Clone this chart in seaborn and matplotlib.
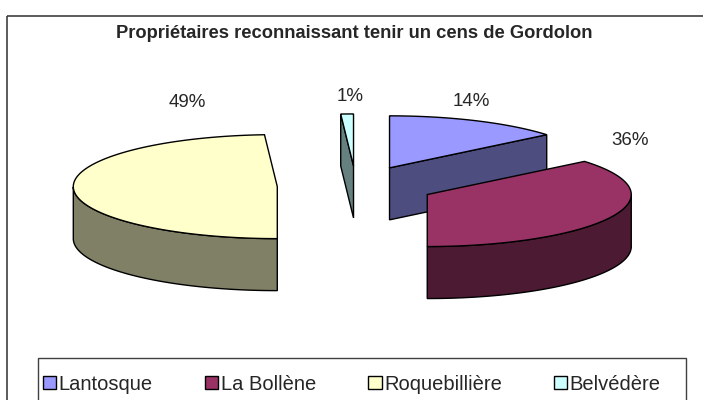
import numpy as np
import matplotlib
matplotlib.use("Agg")
import matplotlib.pyplot as plt
from matplotlib.patches import Polygon, Rectangle, Patch
from matplotlib.colors import to_rgb
import seaborn as sns

# data
communes = ["Lantosque", "La Bollène", "Roquebillière", "Belvédère"]
parts = [14, 36, 49, 1]
pct_labels = ["14%", "36%", "49%", "1%"]
title = "Propriétaires reconnaissant tenir un cens de Gordolon"

sns.set_theme(style="white")
plt.rcParams["font.family"] = ["Liberation Sans", "DejaVu Sans"]

top_colors = ["#9999FF", "#993366", "#FFFFCC", "#CCFFFF"]


def shade(c, f=0.5):
    return tuple(v * f for v in to_rgb(c))


fig = plt.figure(figsize=(7.03, 4.0), dpi=100)
ax = fig.add_axes([0, 0, 1, 1])
ax.set_xlim(0, 703)
ax.set_ylim(400, 0)
ax.axis("off")

# chart area border and title
ax.add_patch(Rectangle((7, 16), 720, 420, fill=False, ec="#404040", lw=1.2))
ax.text(354, 33, title, ha="center", va="center", fontsize=13.2, fontweight="bold")

# 3d pie geometry (pixel space)
cx, cy = 356, 186
a, b, depth = 204, 52, 52
explode = 0.386
label_offsets = [(82, -66), (203, -54), (-90, -84), (-3, -69)]

total = float(sum(parts))
cum = np.concatenate([[0], np.cumsum(parts)]) / total
slices = []
for i, p in enumerate(parts):
    t1 = np.radians(90 - 360 * cum[i])
    t0 = np.radians(90 - 360 * cum[i + 1])
    mid = (t0 + t1) / 2
    ox = cx + explode * a * np.cos(mid)
    oy = cy - explode * b * np.sin(mid)
    slices.append((i, t0, t1, ox, oy))


def pt(ox, oy, t, dz=0.0):
    return ox + a * np.cos(t), oy - b * np.sin(t) + dz


for i, t0, t1, ox, oy in sorted(slices, key=lambda s: s[4]):
    top = top_colors[i]
    side = shade(top)
    kw = dict(ec="black", lw=1.0, joinstyle="miter")
    # radial cut faces
    for t, vis in [(t0, np.cos(t0) > 1e-6), (t1, np.cos(t1) < -1e-6)]:
        if vis:
            x, y = pt(ox, oy, t)
            quad = [(ox, oy), (x, y), (x, y + depth), (ox, oy + depth)]
            ax.add_patch(Polygon(quad, closed=True, fc=side, **kw))
    # outer wall (front half)
    ts = np.linspace(t0, t1, 300)
    front = np.sin(ts) < 0
    runs = []
    cur = []
    for t, f in zip(ts, front):
        if f:
            cur.append(t)
        elif cur:
            runs.append(cur)
            cur = []
    if cur:
        runs.append(cur)
    for run in runs:
        run = np.array(run)
        upper = [pt(ox, oy, t) for t in run]
        lower = [pt(ox, oy, t, depth) for t in run[::-1]]
        ax.add_patch(Polygon(upper + lower, closed=True, fc=side, **kw))
    # top face
    arc = [pt(ox, oy, t) for t in np.linspace(t0, t1, 300)]
    ax.add_patch(Polygon([(ox, oy)] + arc, closed=True, fc=top, **kw))
    # percentage label
    dx, dy = label_offsets[i]
    ax.text(ox + dx, oy + dy, pct_labels[i], ha="center", va="center", fontsize=13.5)

# legend
ax.add_patch(Rectangle((38, 358), 648, 60, fill=False, ec="#404040", lw=1.0))
handles = [Patch(fc=c, ec="black", lw=1.0) for c in top_colors]
ax.legend(handles, communes, ncol=4, loc="center", bbox_to_anchor=(352 / 703, 1 - 384 / 400),
          frameon=False, fontsize=14.5, handlelength=0.65, handleheight=0.65,
          handletextpad=0.12, columnspacing=2.6, borderaxespad=0)

fig.savefig("out.png", dpi=100, facecolor="white")
